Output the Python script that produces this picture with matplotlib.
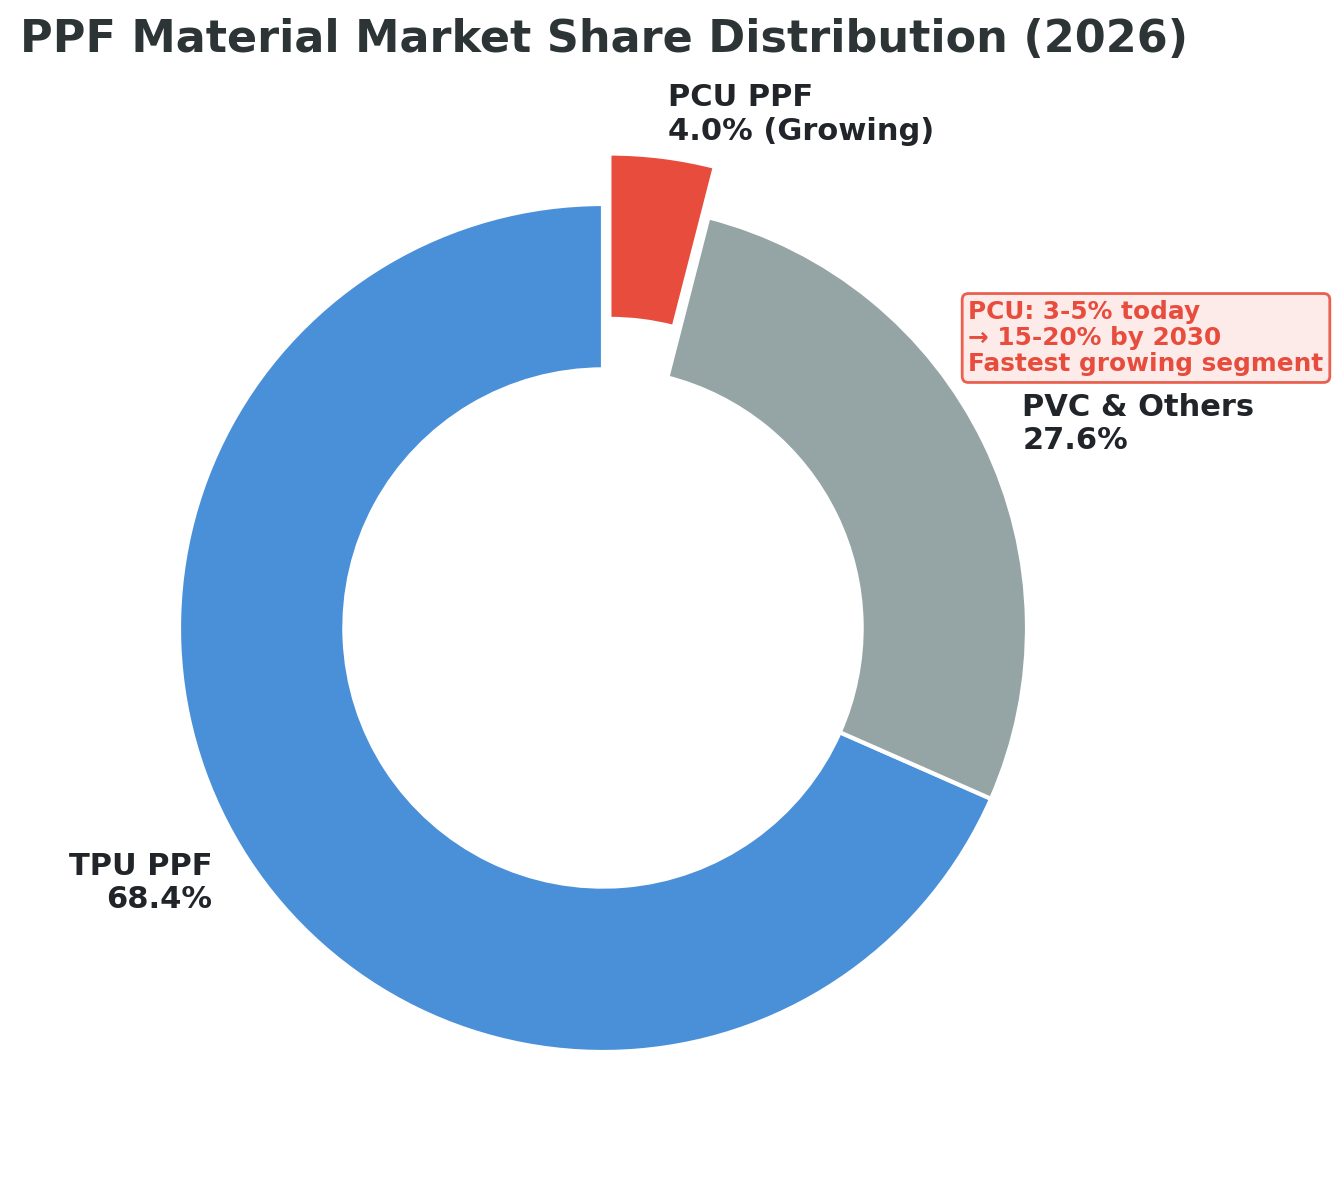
import matplotlib.pyplot as plt

# market share data (2026)
materials = ["TPU PPF", "PVC & Others", "PCU PPF"]
shares = [68.4, 27.6, 4.0]
label_texts = ["TPU PPF\n68.4%", "PVC & Others\n27.6%", "PCU PPF\n4.0% (Growing)"]
colors = ["#4A90D9", "#95A5A6", "#E74C3C"]
explode = [0, 0, 0.12]

note_text = "PCU: 3-5% today\n\u2192 15-20% by 2030\nFastest growing segment"

fig = plt.figure(figsize=(13.44, 11.82), dpi=100)
ax = fig.add_axes([0, 0, 1, 1])

wedges, texts = ax.pie(shares, labels=label_texts, colors=colors, explode=explode,
                       startangle=90, counterclock=True, labeldistance=1.1,
                       wedgeprops=dict(width=0.39, edgecolor="white", linewidth=3),
                       textprops=dict(fontsize=22, fontweight="bold", color="#212529"))

# px per data unit ~ 424, centre at (603, 628)
scale = 424
ax.set_xlim(-603 / scale, (1344 - 603) / scale)
ax.set_ylim((628 - 1182) / scale, 628 / scale)
ax.set_aspect("equal")
ax.axis("off")

ax.text(1146 / scale - 603 / scale, (628 - 338) / scale, note_text, ha="center", va="center",
        multialignment="left", fontsize=17.8, fontweight="bold", color="#E74C3C",
        linespacing=1.12,
        bbox=dict(boxstyle="round,pad=0.25", facecolor="#FDEBEA", edgecolor="#E9604F", linewidth=2))

fig.text(604 / 1344, 1 - 40 / 1182, "PPF Material Market Share Distribution (2026)",
         ha="center", va="center", fontsize=32, fontweight="bold", color="#2D3436")

fig.savefig("out.png", dpi=100)
